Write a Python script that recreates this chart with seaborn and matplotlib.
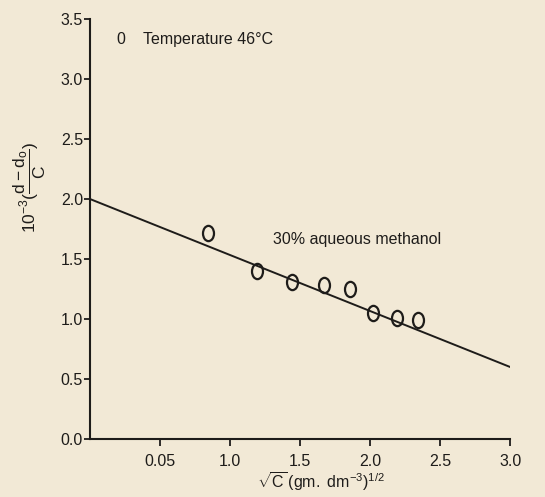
import matplotlib
matplotlib.use("Agg")
import matplotlib.pyplot as plt
import seaborn as sns
import pandas as pd
from matplotlib.markers import MarkerStyle
from matplotlib.transforms import Affine2D

# data
sqrt_c = [0.84, 1.19, 1.44, 1.67, 1.86, 2.02, 2.19, 2.34]
value = [1.72, 1.40, 1.31, 1.28, 1.25, 1.05, 1.01, 0.99]
fit_x = [0.0, 3.0]
fit_y = [2.0, 0.6]
x_ticks = [0.5, 1.0, 1.5, 2.0, 2.5, 3.0]
x_tick_labels = ["0.05", "1.0", "1.5", "2.0", "2.5", "3.0"]
y_ticks = [0.0, 0.5, 1.0, 1.5, 2.0, 2.5, 3.0, 3.5]
y_tick_labels = ["0.0", "0.5", "1.0", "1.5", "2.0", "2.5", "3.0", "3.5"]

sns.set_theme(style="ticks")
paper = "#f2e9d6"
ink = "#1e1c1a"
plt.rcParams["font.family"] = ["Liberation Sans", "DejaVu Sans"]
plt.rcParams["mathtext.fontset"] = "custom"
plt.rcParams["mathtext.rm"] = "Liberation Sans"
plt.rcParams["mathtext.it"] = "Liberation Sans"
plt.rcParams["mathtext.bf"] = "Liberation Sans:bold"

fig = plt.figure(figsize=(5.45, 4.97), dpi=100, facecolor=paper)
ax = fig.add_axes([0.165, 0.1167, 0.771, 0.8451])
ax.set_facecolor(paper)

df = pd.DataFrame({"x": sqrt_c, "y": value})
fit = pd.DataFrame({"x": fit_x, "y": fit_y})

sns.lineplot(data=fit, x="x", y="y", ax=ax, color=ink, linewidth=1.4)
mk = MarkerStyle("o", fillstyle="none", transform=Affine2D().scale(0.72, 1.0))
sns.lineplot(data=df, x="x", y="y", ax=ax, linestyle="", marker=mk, markersize=11,
             markerfacecolor="none", markeredgecolor=ink, markeredgewidth=1.6,
             color=ink, zorder=3)

ax.set_xlim(0, 3.0)
ax.set_ylim(0, 3.5)
ax.set_xticks(x_ticks)
ax.set_xticklabels(x_tick_labels)
ax.set_yticks(y_ticks)
ax.set_yticklabels(y_tick_labels)
sns.despine(ax=ax)
for s in ["left", "bottom"]:
    ax.spines[s].set_color(ink)
    ax.spines[s].set_linewidth(1.5)
ax.tick_params(axis="x", direction="out", length=5, width=1.3, colors=ink,
               labelsize=11.5, pad=6)
ax.tick_params(axis="y", direction="out", length=4, width=1.3, colors=ink,
               labelsize=11.5, pad=1)

ax.set_xlabel(r"$\sqrt{\mathrm{C}}\,(\mathrm{gm.\ dm^{-3}})^{1/2}$", fontsize=11.5,
              color=ink)
ax.xaxis.set_label_coords(0.55, -0.075)
ax.set_ylabel(r"$10^{-3}(\dfrac{\mathrm{d}-\mathrm{d_o}}{\mathrm{C}})$", fontsize=12.5,
              color=ink)
ax.yaxis.set_label_coords(-0.10, 0.6)

ax.text(0.22, 3.33, "0", fontsize=11.5, color=ink, va="center", ha="center")
ax.text(0.38, 3.33, "Temperature 46°C", fontsize=11.5, color=ink, va="center", ha="left")
ax.text(1.31, 1.66, "30% aqueous methanol", fontsize=11.5, color=ink, va="center", ha="left")

fig.savefig("out.png", dpi=100, facecolor=paper)
